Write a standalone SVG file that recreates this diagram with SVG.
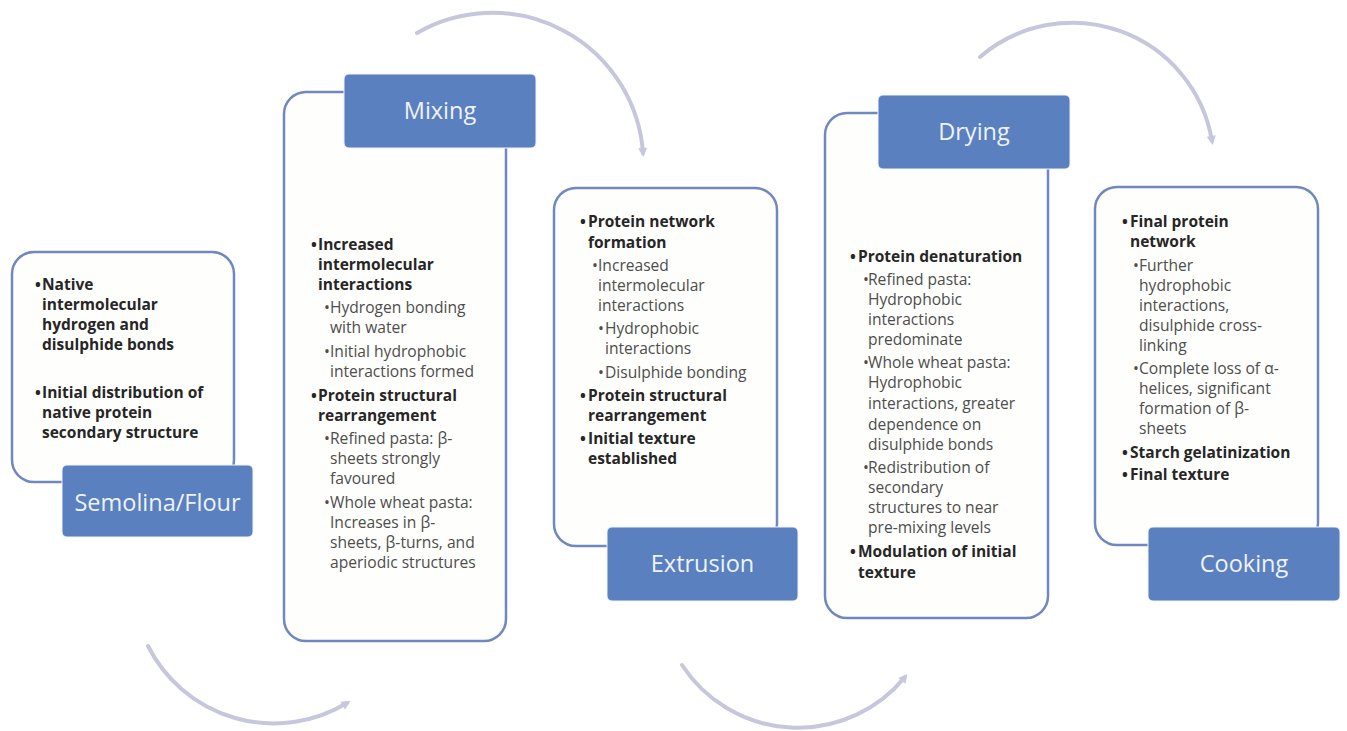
<svg xmlns="http://www.w3.org/2000/svg" width="1347" height="731" viewBox="0 0 1347 731">
<style>
.card{fill:#fefefc;stroke:#7088bd;stroke-width:2.5}
.lab{fill:#5a80bf;stroke:#eef2f9;stroke-width:1}
.lt{font-family:"Open Sans","Liberation Sans",sans-serif;font-size:23.5px;fill:#eef3fb;text-anchor:middle}
.b{font-family:"Open Sans","Liberation Sans",sans-serif;font-size:15.5px;font-weight:bold;fill:#262626}
.r{font-family:"Open Sans","Liberation Sans",sans-serif;font-size:15.6px;fill:#4d4d4d}
.arc{fill:none;stroke:#c6c7dc;stroke-width:4;stroke-linecap:round}
</style>
<defs>
<marker id="ah" markerUnits="userSpaceOnUse" markerWidth="12" markerHeight="12" refX="6" refY="6" orient="auto">
<path d="M1,1.5 L10,6 L1,10.5 Z" fill="#c6c7dc"/>
</marker>
</defs>
<rect width="1347" height="731" fill="#ffffff"/>
<g id="connectors">
<path class="arc" d="M148,646 A141,141 0 0,0 347,703" marker-end="url(#ah)"/>
<path class="arc" d="M417,33 A151,151 0 0,1 643,153" marker-end="url(#ah)"/>
<path class="arc" d="M682,665 A138.4,138.4 0 0,0 905,677" marker-end="url(#ah)"/>
<path class="arc" d="M980,57 A141.6,141.6 0 0,1 1212,141" marker-end="url(#ah)"/>
</g>
<g id="semolina">
<rect class="card" x="12" y="252" width="222" height="230" rx="22"/>
<text class="b" x="35" y="290">•</text>
<text class="b" x="42" y="290">Native</text>
<text class="b" x="42" y="310">intermolecular</text>
<text class="b" x="42" y="330">hydrogen and</text>
<text class="b" x="42" y="350">disulphide bonds</text>
<text class="b" x="35" y="398">•</text>
<text class="b" x="42" y="398">Initial distribution of</text>
<text class="b" x="42" y="418">native protein</text>
<text class="b" x="42" y="438">secondary structure</text>
<rect class="lab" x="62" y="465" width="191" height="72" rx="5"/>
<text class="lt" x="157.5" y="511">Semolina/Flour</text>
</g>
<g id="mixing">
<rect class="card" x="284" y="92" width="222" height="549" rx="22"/>
<text class="b" x="311" y="250">•</text>
<text class="b" x="318" y="250">Increased</text>
<text class="b" x="318" y="270">intermolecular</text>
<text class="b" x="318" y="290">interactions</text>
<text class="r" x="324" y="313">•</text>
<text class="r" x="330" y="313">Hydrogen bonding</text>
<text class="r" x="330" y="333">with water</text>
<text class="r" x="324" y="357">•</text>
<text class="r" x="330" y="357">Initial hydrophobic</text>
<text class="r" x="330" y="377">interactions formed</text>
<text class="b" x="311" y="401">•</text>
<text class="b" x="318" y="401">Protein structural</text>
<text class="b" x="318" y="421">rearrangement</text>
<text class="r" x="324" y="444">•</text>
<text class="r" x="330" y="444">Refined pasta: β-</text>
<text class="r" x="330" y="464">sheets strongly</text>
<text class="r" x="330" y="484">favoured</text>
<text class="r" x="324" y="508">•</text>
<text class="r" x="330" y="508">Whole wheat pasta:</text>
<text class="r" x="330" y="528">Increases in β-</text>
<text class="r" x="330" y="548">sheets, β-turns, and</text>
<text class="r" x="330" y="568">aperiodic structures</text>
<rect class="lab" x="344" y="74" width="192" height="74" rx="5"/>
<text class="lt" x="440" y="119">Mixing</text>
</g>
<g id="extrusion">
<rect class="card" x="554" y="188" width="223" height="358" rx="22"/>
<text class="b" x="580" y="227">•</text>
<text class="b" x="588" y="227">Protein network</text>
<text class="b" x="588" y="248">formation</text>
<text class="r" x="592" y="271">•</text>
<text class="r" x="598" y="271">Increased</text>
<text class="r" x="598" y="291">intermolecular</text>
<text class="r" x="598" y="311">interactions</text>
<text class="r" x="598" y="334">•</text>
<text class="r" x="605" y="334">Hydrophobic</text>
<text class="r" x="605" y="354">interactions</text>
<text class="r" x="598" y="378">•</text>
<text class="r" x="605" y="378">Disulphide bonding</text>
<text class="b" x="580" y="401">•</text>
<text class="b" x="588" y="401">Protein structural</text>
<text class="b" x="588" y="421">rearrangement</text>
<text class="b" x="580" y="444">•</text>
<text class="b" x="588" y="444">Initial texture</text>
<text class="b" x="588" y="464">established</text>
<rect class="lab" x="607" y="527" width="191" height="74" rx="5"/>
<text class="lt" x="702.5" y="572">Extrusion</text>
</g>
<g id="drying">
<rect class="card" x="825" y="113" width="223" height="505" rx="22"/>
<text class="b" x="850" y="262">•</text>
<text class="b" x="858" y="262">Protein denaturation</text>
<text class="r" x="863" y="285">•</text>
<text class="r" x="868" y="285">Refined pasta:</text>
<text class="r" x="868" y="305">Hydrophobic</text>
<text class="r" x="868" y="325">interactions</text>
<text class="r" x="868" y="345">predominate</text>
<text class="r" x="863" y="368">•</text>
<text class="r" x="868" y="368">Whole wheat pasta:</text>
<text class="r" x="868" y="388">Hydrophobic</text>
<text class="r" x="868" y="409">interactions, greater</text>
<text class="r" x="868" y="430">dependence on</text>
<text class="r" x="868" y="450">disulphide bonds</text>
<text class="r" x="863" y="473">•</text>
<text class="r" x="868" y="473">Redistribution of</text>
<text class="r" x="868" y="493">secondary</text>
<text class="r" x="868" y="513">structures to near</text>
<text class="r" x="868" y="533">pre-mixing levels</text>
<text class="b" x="850" y="557">•</text>
<text class="b" x="858" y="557">Modulation of initial</text>
<text class="b" x="858" y="578">texture</text>
<rect class="lab" x="878" y="95" width="192" height="74" rx="5"/>
<text class="lt" x="974" y="140">Drying</text>
</g>
<g id="cooking">
<rect class="card" x="1095" y="187" width="223" height="358" rx="22"/>
<text class="b" x="1122" y="227">•</text>
<text class="b" x="1130" y="227">Final protein</text>
<text class="b" x="1130" y="247">network</text>
<text class="r" x="1133" y="271">•</text>
<text class="r" x="1139" y="271">Further</text>
<text class="r" x="1139" y="291">hydrophobic</text>
<text class="r" x="1139" y="311">interactions,</text>
<text class="r" x="1139" y="331">disulphide cross-</text>
<text class="r" x="1139" y="351">linking</text>
<text class="r" x="1133" y="374">•</text>
<text class="r" x="1139" y="374">Complete loss of α-</text>
<text class="r" x="1139" y="394">helices, significant</text>
<text class="r" x="1139" y="414">formation of β-</text>
<text class="r" x="1139" y="434">sheets</text>
<text class="b" x="1122" y="458">•</text>
<text class="b" x="1130" y="458">Starch gelatinization</text>
<text class="b" x="1122" y="480">•</text>
<text class="b" x="1130" y="480">Final texture</text>
<rect class="lab" x="1148" y="527" width="192" height="74" rx="5"/>
<text class="lt" x="1244" y="572">Cooking</text>
</g>
</svg>
